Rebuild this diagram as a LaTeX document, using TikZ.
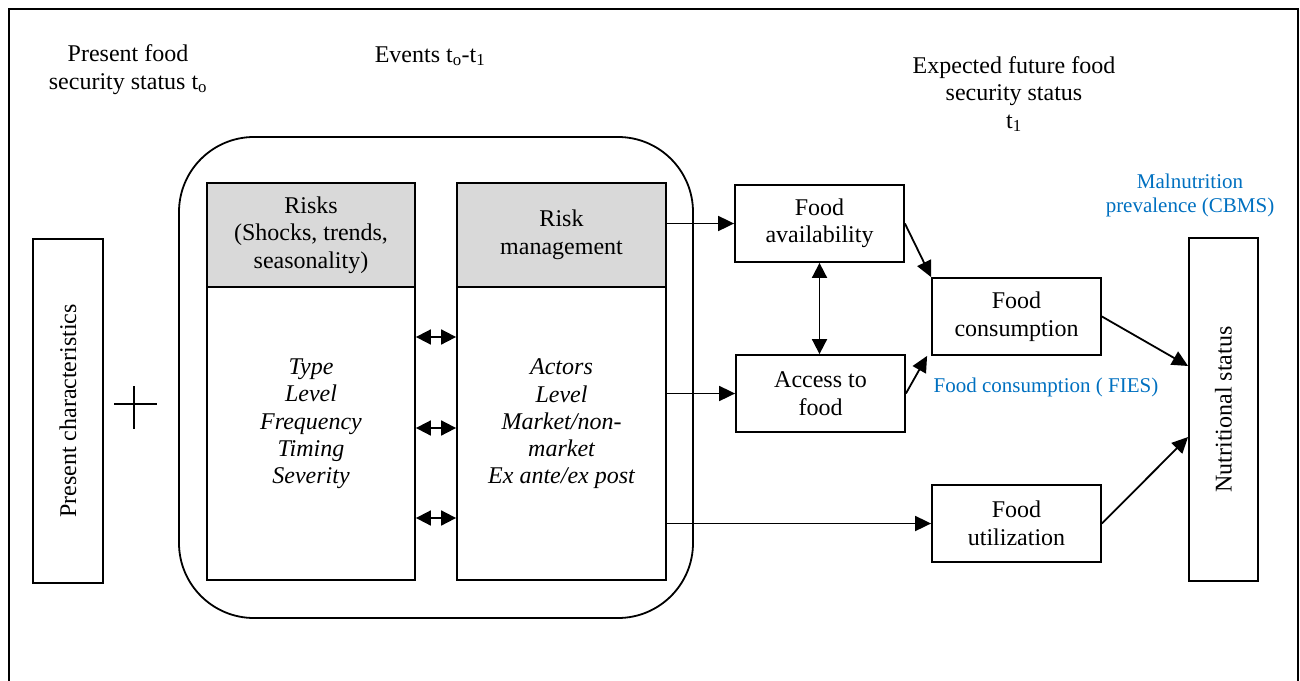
\documentclass[tikz,border=0pt]{standalone}
\usepackage{fontspec}
\setmainfont{Liberation Serif}
\usetikzlibrary{arrows.meta,calc}
\definecolor{hdrgray}{HTML}{D9D9D9}
\definecolor{linkblue}{HTML}{0070C0}
\begin{document}
\begin{tikzpicture}[x=1pt,y=-1pt,
  font=\fontsize{24}{27.5}\selectfont,
  box/.style={draw, line width=1.8pt, inner sep=0pt, align=center},
  hdr/.style={box, fill=hdrgray},
  lbl/.style={align=center, inner sep=0pt},
  bluelbl/.style={lbl, text=linkblue, font=\fontsize{21}{24}\selectfont},
  arr/.style={-{Triangle[length=16pt,width=15pt]}, line width=1.8pt},
  darr/.style={{Triangle[length=15pt,width=15pt]}-{Triangle[length=15pt,width=15pt]}, line width=1.8pt}]
\useasboundingbox (0,0) rectangle (1300,680);
% outer frame (open at bottom)
\draw[line width=2.2pt] (9,684) -- (9,9) -- (1298,9) -- (1298,684);

% titles
\node[lbl] (presfood) at (128,69.5) {Present food\\security status t\textsubscript{o}};
\node[lbl, anchor=base] (events) at (430,62) {Events t\textsubscript{o}-t\textsubscript{1}};
\node[lbl] (expected) at (1014,94) {Expected future food\\security status\\t\textsubscript{1}};
\node[bluelbl] (maln) at (1190,195) {Malnutrition\\prevalence (CBMS)};

% present characteristics
\node[box, minimum width=70pt, minimum height=344pt] (pres) at (68,411) {};
\node[lbl, rotate=90] (prestext) at (pres.center) {Present characteristics};
\draw[line width=1.4pt] (114,404) -- (157,404) (134,386) -- (134,429);

% events container
\node[draw, line width=1.8pt, rounded corners=75pt, minimum width=514pt, minimum height=481pt, inner sep=0pt] (evbox) at (436,377.5) {};

% risks
\node[hdr, minimum width=208pt, minimum height=104pt] (riskhead) at (311,235) {Risks\\(Shocks, trends,\\seasonality)};
\node[box, minimum width=208pt, minimum height=293pt] (riskbody) at (311,433.5) {};
\node[lbl, font=\fontsize{24}{27.3}\selectfont\itshape] (risklist) at (311,424) {Type\\Level\\Frequency\\Timing\\Severity};

% risk management
\node[hdr, minimum width=209pt, minimum height=104pt] (rmhead) at (561.5,235) {Risk\\management};
\node[box, minimum width=209pt, minimum height=293pt] (rmbody) at (561.5,433.5) {};
\node[lbl, font=\fontsize{24}{27.3}\selectfont\itshape] (rmlist) at (561.5,424) {Actors\\Level\\Market/non-\\market\\Ex ante/ex post};

% double arrows between risks and risk management
\foreach \yy in {337,428,518}
  \draw[darr] (riskbody.east |- 0,\yy) -- (rmbody.west |- 0,\yy);

% food security pillars
\node[box, minimum width=169pt, minimum height=77pt] (avail) at (819.5,223.5) {Food\\availability};
\node[box, minimum width=169pt, minimum height=77pt] (access) at (820.5,393.5) {Access to\\food};
\node[box, minimum width=169pt, minimum height=77pt] (cons) at (1016.5,316.5) {Food\\consumption};
\node[box, minimum width=169pt, minimum height=77pt] (util) at (1016.5,523.5) {Food\\utilization};
\node[box, minimum width=69pt, minimum height=343pt] (nutr) at (1223.5,409.5) {};
\node[lbl, rotate=90] (nutrtext) at (nutr.center) {Nutritional status};
\node[bluelbl, anchor=base] (fies) at (1046,392) {Food consumption ( FIES)};

% connectors
\draw[arr] (rmhead.east |- avail.west) -- (avail.west);
\draw[arr] (rmbody.east |- access.west) -- (access.west);
\draw[arr] (rmbody.east |- util.west) -- (util.west);
\draw[darr] (avail.south) -- (avail.south |- access.north);
\draw[arr] (avail.east) -- (cons.north west);
\draw[arr] (access.east) -- ([xshift=-4pt]cons.south west);
\draw[arr] (cons.east) -- ([yshift=43.5pt]nutr.west);
\draw[arr] (util.east) -- ([yshift=-27.5pt]nutr.west);
\end{tikzpicture}
\end{document}
